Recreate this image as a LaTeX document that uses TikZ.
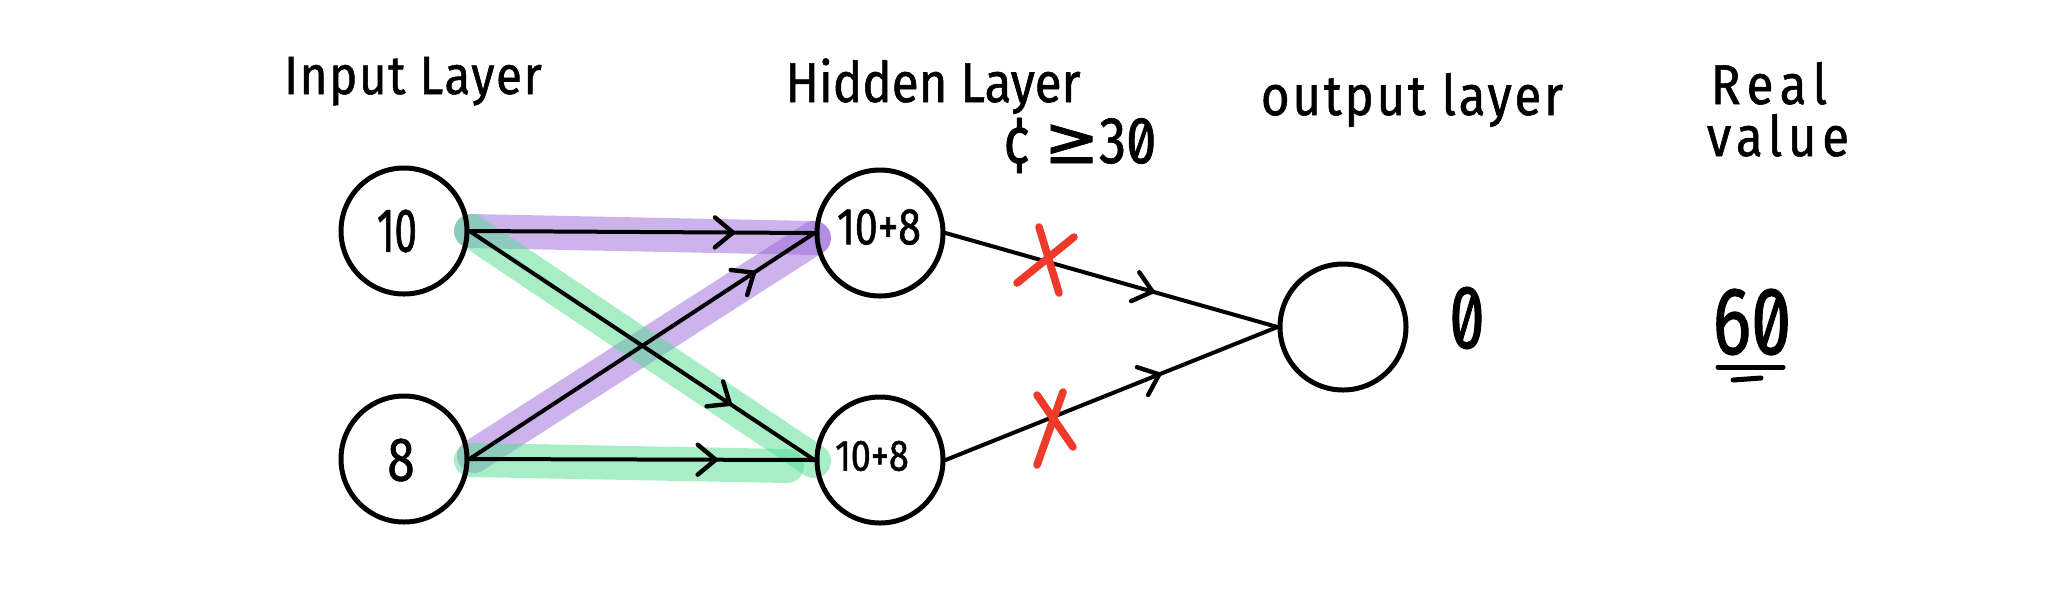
\documentclass[tikz,border=0pt]{standalone}
\usepackage{fontspec}
\setmainfont{Fira Sans}[FakeStretch=0.88]
\newfontfamily\hand{Fira Sans}[FakeStretch=0.88,FakeBold=1]
\newfontfamily\handsz{Fira Sans}[FakeStretch=0.82,FakeBold=1,Numbers=SlashedZero]
\newfontfamily\symf{DejaVu Sans}[FakeBold=1]
\usetikzlibrary{arrows.meta,decorations.markings}
\definecolor{hlpurple}{RGB}{155,105,217}
\definecolor{hlgreen}{RGB}{81,223,145}
\definecolor{xred}{RGB}{238,58,42}
\tikzset{
  neuron/.style={circle,draw=black,line width=2.5pt,minimum size=63pt,inner sep=0pt},
  conn/.style={draw=black,line width=2pt,line cap=round},
  midarrow/.style={postaction={decorate},decoration={markings,
     mark=at position #1 with {\arrow{Straight Barb[length=9pt,width=15pt,line width=2.2pt,line cap=round,line join=round]}}}},
  bandp/.style={draw=hlpurple,opacity=0.5,line width=17pt,line cap=round},
  bandg/.style={draw=hlgreen,opacity=0.5,line width=17pt,line cap=round},
  crossx/.style={draw=xred,line width=3.8pt,line cap=round},
  title/.style={anchor=base,inner sep=0pt,font=\hand},
}
\begin{document}
\begin{tikzpicture}[x=0.5pt,y=-0.5pt]
\useasboundingbox[fill=white] (0,0) rectangle (2058,602);
% highlight bands
\coordinate (pa1) at (471,231);
\coordinate (pa2) at (814,238);
\coordinate (pb1) at (474,456);
\coordinate (ga1) at (471,231);
\coordinate (ga2) at (814,461);
\coordinate (gb1) at (471,460);
\coordinate (gb2) at (787,466);
\draw[bandp] (pa1) -- (pa2);
\draw[bandp] (pb1) -- (pa2);
\draw[bandg] (ga1) -- (ga2);
\draw[bandg] (gb1) -- (gb2);
% neurons
\node[neuron] (i1) at (404,231) {};
\node[neuron] (i2) at (404,459) {};
\node[neuron] (h1) at (880,233) {};
\node[neuron] (h2) at (880,460) {};
\node[neuron] (o) at (1343,327) {};
\node[font=\hand\addfontfeatures{FakeStretch=0.65}\fontsize{31}{31}\selectfont] (t1) at (397,231) {10};
\node[font=\hand\addfontfeatures{FakeStretch=0.8}\fontsize{31}{31}\selectfont] (t2) at (401,460) {8};
\node[font=\hand\addfontfeatures{FakeStretch=0.79}\fontsize{26}{26}\selectfont] (t3) at (879,227) {10+8};
\node[font=\hand\addfontfeatures{FakeStretch=0.82}\fontsize{22}{22}\selectfont] (t4) at (872,456) {10+8};
% connectors
\draw[conn,midarrow=0.77] (i1.east) -- (h1.west);
\draw[conn,midarrow=0.76] (i1.east) -- (h2.west);
\draw[conn,midarrow=0.83] (i2.east) -- (h1.west);
\draw[conn,midarrow=0.72] (i2.east) -- (h2.west);
\draw[conn,midarrow=0.63] (h1.east) -- (o.west);
\draw[conn,midarrow=0.65] (h2.east) -- (o.west);
% red crosses
\coordinate (xa1) at (1039,227); \coordinate (xa2) at (1059,293);
\coordinate (xa3) at (1074,237); \coordinate (xa4) at (1017,283);
\draw[crossx] (xa1) -- (xa2);
\draw[crossx] (xa3) -- (xa4);
\coordinate (xb1) at (1037,395); \coordinate (xb2) at (1073,447);
\coordinate (xb3) at (1063,392); \coordinate (xb4) at (1037,465);
\draw[crossx] (xb1) -- (xb2);
\draw[crossx] (xb3) -- (xb4);
% titles
\node[title,font=\hand\addfontfeatures{LetterSpace=3}\fontsize{27}{27}\selectfont] (ti) at (413,94) {Input Layer};
\node[title,font=\hand\fontsize{28}{28}\selectfont] (th) at (933,102) {Hidden Layer};
\node[title,font=\handsz\fontsize{33}{33}\selectfont] (tc) at (1080,163) {¢ {\symf ≥}30};
\node[title,font=\hand\addfontfeatures{LetterSpace=5}\fontsize{28}{28}\selectfont] (to) at (1412,115) {output layer};
\node[title,font=\hand\addfontfeatures{LetterSpace=12}\fontsize{28}{28}\selectfont] (tr) at (1769,104) {Real};
\node[title,font=\hand\addfontfeatures{LetterSpace=10}\fontsize{28}{28}\selectfont] (tv) at (1778,156) {value};
% values
\node[font=\handsz\addfontfeatures{FakeStretch=0.7}\fontsize{45}{45}\selectfont] (vo) at (1467,318) {0};
\node[font=\handsz\addfontfeatures{FakeStretch=0.75}\fontsize{48}{48}\selectfont] (vr) at (1752,322) {60};
\coordinate (u1a) at (1718,367); \coordinate (u1b) at (1783,367);
\coordinate (u2a) at (1733,380); \coordinate (u2b) at (1761,378);
\draw[conn,line width=2.5pt] (u1a) -- (u1b);
\draw[conn,line width=2.5pt] (u2a) -- (u2b);
\end{tikzpicture}
\end{document}
